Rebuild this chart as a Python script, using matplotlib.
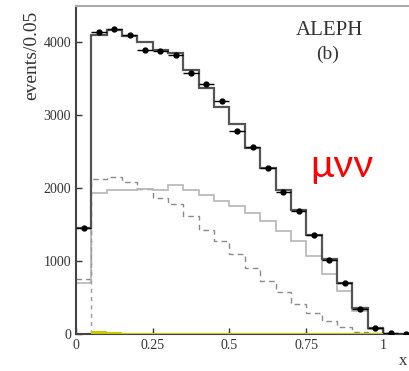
import numpy as np
import matplotlib
matplotlib.use("Agg")
import matplotlib.pyplot as plt

# bin edges 0 .. 1.1, width 0.05
edges = np.linspace(0, 1.1, 23)
centers = (edges[:-1] + edges[1:]) / 2

# total MC (dark)
total = [1460, 4100, 4165, 4095, 4000, 3890, 3860, 3625, 3380, 3120, 2885,
         2555, 2280, 1980, 1700, 1360, 1030, 705, 353, 80, 0, 0]
# light solid component
comp_a = [700, 1932, 1970, 1970, 1985, 1980, 2040, 1980, 1910, 1820, 1750,
          1665, 1550, 1410, 1270, 1070, 830, 585, 320, 70, 0, 0]
# dashed component
comp_b = [755, 2125, 2160, 2080, 1990, 1865, 1785, 1620, 1430, 1270, 1100,
          905, 730, 570, 415, 285, 175, 90, 30, 10, 0, 0]
# small background (yellow)
bkg = [0, 45, 30, 10, 8, 8, 8, 8, 8, 8, 8, 8, 8, 8, 8, 8, 12, 15, 15, 8, 0, 0]
# data points
data = [1460, 4150, 4185, 4100, 3890, 3880, 3830, 3585, 3430, 3200, 2780,
        2565, 2275, 1946, 1690, 1360, 1016, 705, 343, 78, 8, 4]

xticks = [0, 0.25, 0.5, 0.75, 1]
xticklabels = ["0", "0.25", "0.5", "0.75", "1"]
yticks = [0, 1000, 2000, 3000, 4000]

fig = plt.figure(figsize=(4.1, 3.71), dpi=100)
ax = fig.add_axes([76 / 410, 37 / 371, 1.1 * 307 / 410, 328 / 371])

ax.stairs(comp_b, edges, color="#8a8a8a", lw=1, ls=(0, (4, 3)), baseline=None)
ax.stairs(comp_a, edges, color="#b5b5b5", lw=1.2, baseline=None)
ax.stairs(total, edges, color="#555555", lw=1.6, baseline=None)
ax.plot([0.05, 0.05], [0, total[0]], color="#999999", lw=1, ls=(0, (3, 3)))
ax.stairs(bkg, edges, fill=True, color="#c8c800", baseline=0, zorder=3)

ax.errorbar(centers, data, xerr=0.025, fmt="o", color="black", ms=3.5,
            elinewidth=1, capsize=0, zorder=4)

ax.set_xlim(0, 1.1)
ax.set_ylim(0, 4500)
ax.set_xticks(xticks)
ax.set_xticklabels(xticklabels)
ax.set_yticks(yticks)
ax.tick_params(direction="in", length=4, width=1, labelsize=10, colors="#333333")
for lab in ax.get_xticklabels() + ax.get_yticklabels():
    lab.set_family("Liberation Serif")

for s in ["left", "bottom"]:
    ax.spines[s].set_linewidth(1.5)
    ax.spines[s].set_color("#444444")
ax.spines["top"].set_color("#aaaaaa")
ax.spines["top"].set_linewidth(1.5)
ax.spines["right"].set_visible(False)

ax.text(0.825, 4300, "ALEPH", family="Liberation Serif", fontsize=15,
        ha="center", va="top", color="#333333")
ax.text(0.82, 3950, "(b)", family="Liberation Serif", fontsize=14,
        ha="center", va="top", color="#333333")
ax.text(0.762, 2157, "μνν", family="Lato", fontsize=28, color="red",
        ha="left", va="baseline")

fig.text(32 / 410, 1 - 55 / 371, "events/0.05", family="Liberation Serif",
         fontsize=14, rotation=90, ha="center", va="center", color="#333333")
fig.text(399 / 410, 1 - 361 / 371, "x", family="Liberation Serif",
         fontsize=12, ha="left", va="center", color="#333333")

fig.savefig("out.png", dpi=100)
